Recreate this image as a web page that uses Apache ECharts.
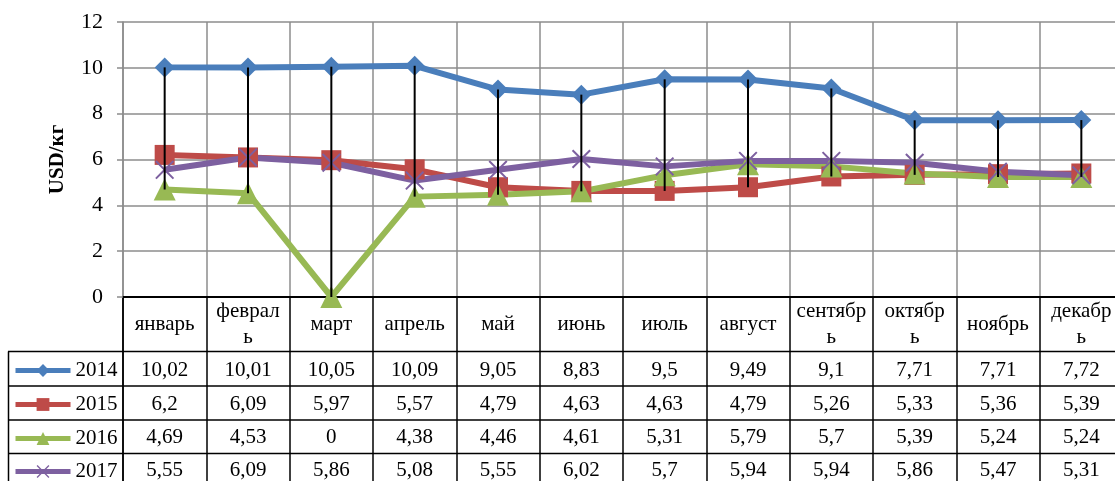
<!DOCTYPE html>
<html>
<head>
<meta charset="utf-8">
<script src="https://cdn.jsdelivr.net/npm/echarts@6/dist/echarts.min.js"></script>
<style>
  html, body { margin: 0; padding: 0; background: #fff; overflow: hidden; }
  /* the plot runs slightly past the right edge of the window, as in the original */
  #chart { width: 1123px; height: 481px; }
</style>
</head>
<body>
<div id="chart"></div>
<script>
// months as they are wrapped in the table header
const months = ['январь', 'феврал\nь', 'март', 'апрель', 'май', 'июнь', 'июль', 'август', 'сентябр\nь', 'октябр\nь', 'ноябрь', 'декабр\nь'];
const years = ['2014', '2015', '2016', '2017'];

const v2014 = [10.02, 10.01, 10.05, 10.09, 9.05, 8.83, 9.5, 9.49, 9.1, 7.71, 7.71, 7.72];
const v2015 = [6.2, 6.09, 5.97, 5.57, 4.79, 4.63, 4.63, 4.79, 5.26, 5.33, 5.36, 5.39];
const v2016 = [4.69, 4.53, 0, 4.38, 4.46, 4.61, 5.31, 5.79, 5.7, 5.39, 5.24, 5.24];
const v2017 = [5.55, 6.09, 5.86, 5.08, 5.55, 6.02, 5.7, 5.94, 5.94, 5.86, 5.47, 5.31];

const yTicks = { min: 0, max: 12, interval: 2 };

const FONT = 'Liberation Serif';
const allRows = [v2014, v2015, v2016, v2017];
const colors = ['#4a7ebb', '#be4b48', '#98b954', '#7d60a0'];
const symbols = [
  'diamond',
  'rect',
  'triangle',
  'path://M0,1.5 L1.5,0 L10,8.5 L18.5,0 L20,1.5 L11.5,10 L20,18.5 L18.5,20 L10,11.5 L1.5,20 L0,18.5 L8.5,10 Z'
];
const symbolSizes = [20, 20, 22, 19];
const fmt = v => String(v).replace('.', ',');

// high-low lines: from max to min of every month
const hiLow = months.map((m, i) => {
  const vals = allRows.map(r => r[i]);
  return [i, Math.min(...vals), Math.max(...vals)];
});

const rowOffsets = [73, 107, 140, 173];
const rowLines = [351.5, 386, 420, 453.5];
const rowCenters = [369, 403, 437, 470];

const chart = echarts.init(document.getElementById('chart'));

const lineSeries = years.map((y, k) => ({
  name: y,
  type: 'line',
  data: allRows[k],
  xAxisIndex: 0,
  yAxisIndex: 0,
  symbol: symbols[k],
  symbolSize: symbolSizes[k],
  showAllSymbol: true,
  color: colors[k],
  lineStyle: { width: 6, color: colors[k] },
  itemStyle: { color: colors[k] }
}));

// table value rows as extra bottom axes on the plot grid
const valueAxes = years.map((y, k) => ({
  type: 'category',
  gridIndex: 0,
  position: 'bottom',
  offset: rowOffsets[k],
  data: allRows[k].map(fmt),
  boundaryGap: true,
  axisLine: { show: false },
  axisTick: { show: false },
  splitLine: { show: false },
  axisLabel: {
    interval: 0, margin: 0, verticalAlign: 'middle',
    fontFamily: FONT, fontSize: 21, color: '#000'
  }
}));

// one legend per table row, so each key sits in its own cell
const legends = years.map((y, k) => ({
  data: [y],
  orient: 'vertical',
  left: 13,
  top: rowCenters[k] - 9,
  padding: 0,
  itemWidth: 55,
  itemHeight: 16,
  itemGap: 0,
  selectedMode: false,
  lineStyle: { width: 5 },
  textStyle: { fontFamily: FONT, fontSize: 21, color: '#000', lineHeight: 18 }
}));

chart.setOption({
  animation: false,
  backgroundColor: '#fff',
  grid: [
    { left: 123, right: 0, top: 22, height: 275 },
    { left: 123, right: 0, top: 297, height: 200 }
  ],
  legend: legends,
  xAxis: [
    {
      type: 'category',
      gridIndex: 0,
      data: months,
      boundaryGap: true,
      axisLine: { show: true, lineStyle: { color: '#000', width: 2 } },
      axisTick: { show: false },
      splitLine: { show: true, interval: 0, lineStyle: { color: '#8c8c8c', width: 1.5 } },
      axisLabel: {
        interval: 0, margin: 27, verticalAlign: 'middle', lineHeight: 26,
        fontFamily: FONT, fontSize: 21, color: '#000'
      }
    },
    ...valueAxes,
    {
      type: 'category',
      gridIndex: 1,
      data: months,
      boundaryGap: true,
      axisLine: { show: false },
      axisTick: { show: false },
      axisLabel: { show: false },
      splitLine: { show: true, interval: 0, lineStyle: { color: '#000', width: 1.5 } }
    }
  ],
  yAxis: [
    {
      type: 'value',
      gridIndex: 0,
      min: yTicks.min,
      max: yTicks.max,
      interval: yTicks.interval,
      name: 'USD/кг',
      nameLocation: 'middle',
      nameGap: 55,
      nameTextStyle: { fontFamily: FONT, fontSize: 21, fontWeight: 'bold', color: '#000' },
      axisLine: { show: true, lineStyle: { color: '#8c8c8c', width: 1.5 } },
      axisTick: { show: true, length: 6, lineStyle: { color: '#8c8c8c', width: 1.5 } },
      splitLine: { show: true, lineStyle: { color: '#8c8c8c', width: 1.5 } },
      axisLabel: { margin: 20, fontFamily: FONT, fontSize: 22, color: '#000' }
    },
    {
      type: 'value',
      gridIndex: 1,
      axisLine: { show: true, lineStyle: { color: '#000', width: 1.5 } },
      axisTick: { show: false },
      axisLabel: { show: false },
      splitLine: { show: false }
    }
  ],
  series: [
    ...lineSeries,
    {
      type: 'custom',
      xAxisIndex: 0,
      yAxisIndex: 0,
      data: hiLow,
      z: 10,
      silent: true,
      renderItem: (params, api) => {
        const top = api.coord([api.value(0), api.value(2)]);
        const bot = api.coord([api.value(0), api.value(1)]);
        return {
          type: 'line',
          shape: { x1: top[0], y1: top[1], x2: bot[0], y2: bot[1] },
          style: { stroke: '#000', lineWidth: 2 }
        };
      }
    }
  ],
  graphic: [
    ...rowLines.map(y => ({
      type: 'line',
      shape: { x1: 8, y1: y, x2: 1123, y2: y },
      style: { stroke: '#000', lineWidth: 1.5 },
      z: 100
    })),
    {
      type: 'line',
      shape: { x1: 8.5, y1: rowLines[0], x2: 8.5, y2: 481 },
      style: { stroke: '#000', lineWidth: 1.5 },
      z: 100
    }
  ]
});
</script>
</body>
</html>
